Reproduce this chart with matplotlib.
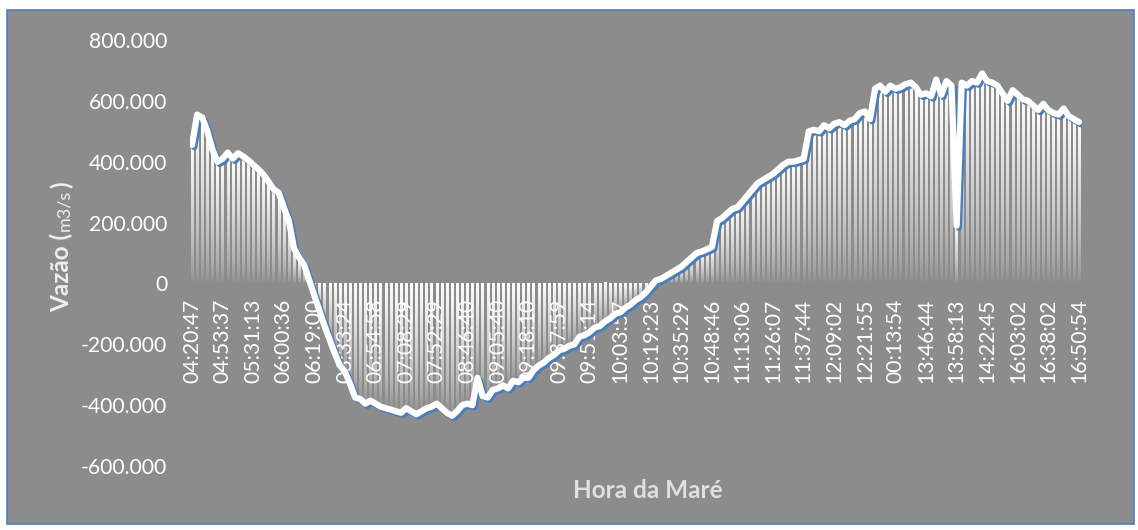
import numpy as np
import matplotlib
matplotlib.use("Agg")
import matplotlib.pyplot as plt
import matplotlib.patheffects as pe
from matplotlib.patches import Rectangle
from matplotlib.ticker import FuncFormatter

# vazão medida ao longo da maré (milhares, como no eixo)
vazao_mil = [
    455, 555, 545, 500, 440, 400, 410, 430, 410, 428,
    418, 405, 390, 375, 358, 335, 310, 298, 250, 205,
    115, 85, 60, 10, -40, -90, -140, -185, -230, -270,
    -290, -330, -375, -380, -395, -385, -395, -405, -410, -415,
    -420, -425, -410, -420, -430, -420, -410, -405, -395, -410,
    -425, -435, -420, -400, -395, -400, -310, -370, -375, -350,
    -345, -335, -345, -320, -325, -310, -310, -285, -270, -260,
    -245, -235, -220, -215, -205, -200, -175, -170, -160, -145,
    -140, -125, -115, -100, -95, -80, -70, -55, -45, -30,
    -10, 10, 15, 25, 35, 45, 55, 70, 85, 100,
    105, 112, 120, 205, 215, 230, 245, 250, 270, 290,
    310, 330, 340, 350, 360, 375, 390, 400, 400, 405,
    410, 500, 505, 500, 520, 510, 525, 530, 520, 535,
    540, 560, 565, 540, 640, 650, 630, 650, 640, 645,
    655, 660, 645, 620, 625, 615, 670, 620, 665, 650,
    190, 660, 650, 665, 660, 690, 665, 660, 650, 625,
    600, 635, 620, 605, 600, 585, 570, 590, 570, 560,
    555, 575, 550, 540, 530,
]

hora_labels = [
    "04:20:47", "04:53:37", "05:31:13", "06:00:36", "06:19:00", "06:33:24",
    "06:54:58", "07:08:29", "07:52:29", "08:46:40", "09:05:40", "09:18:10",
    "09:37:59", "09:51:14", "10:03:57", "10:19:23", "10:35:29", "10:48:46",
    "11:13:06", "11:26:07", "11:37:44", "12:09:02", "12:21:55", "00:13:54",
    "13:46:44", "13:58:13", "14:22:45", "16:03:02", "16:38:02", "16:50:54",
]
passo_rotulo = 6

FUNDO = "#8c8c8c"
AZUL = "#4a7ebb"
plt.rcParams["font.family"] = ["Lato", "DejaVu Sans"]

W, H = 1138, 530
fig = plt.figure(figsize=(W / 100, H / 100), dpi=100, facecolor="white")
fig.patches.append(Rectangle((7 / W, 1 - 524 / H), 1127 / W, 514 / H,
                             transform=fig.transFigure, facecolor=FUNDO,
                             edgecolor=AZUL, lw=1.2, zorder=-10))

ax = fig.add_axes([189.5 / W, 1 - 466 / H, 892 / W, 426 / H])
ax.set_facecolor("none")

y = np.array(vazao_mil, dtype=float)
x = np.arange(len(y))

# colunas finas com degradê branco -> transparente
grad = np.ones((128, 1, 4))
grad[:, 0, 3] = np.linspace(1.0, 0.0, 128) ** 0.7
larg = 0.45
for xi, yi in zip(x, y):
    lo, hi = min(0, yi), max(0, yi)
    ax.imshow(grad, extent=(xi - larg / 2, xi + larg / 2, lo, hi),
              aspect="auto", interpolation="bilinear", zorder=2)

ax.plot(x, y, color="white", lw=4.5, solid_joinstyle="round",
        solid_capstyle="round", zorder=3,
        path_effects=[pe.SimpleLineShadow(offset=(1.6, -1.6), shadow_color=AZUL,
                                          alpha=1.0),
                      pe.Normal()])

ax.set_xlim(-0.5, len(y) - 0.5)
ax.set_ylim(-600, 800)
ax.set_yticks(np.arange(-600, 801, 200))
ax.yaxis.set_major_formatter(
    FuncFormatter(lambda v, _: f"{v * 1000:,.0f}".replace(",", ".")))

ticks = np.arange(0, len(y), passo_rotulo)
ax.set_xticks(ticks)
ax.set_xticklabels(hora_labels[:len(ticks)])

ax.spines["bottom"].set_position(("data", 0))
for s in ax.spines.values():
    s.set_visible(False)
ax.tick_params(axis="both", length=0, colors="white", labelsize=15.2)
ax.tick_params(axis="y", pad=16)
ax.tick_params(axis="x", pad=11, labelrotation=90)

fig.text(648 / W, 1 - 490 / H, "Hora da Maré", ha="center", va="center",
         fontsize=17.5, fontweight="bold", color="#e0e0e0")

# rótulo do eixo y em partes: negrito + unidade menor
partes = [("Vazão (", dict(fontsize=17.5, fontweight="bold")),
          ("m3/s", dict(fontsize=13)),
          (")", dict(fontsize=17.5, fontweight="bold"))]
fig.canvas.draw()
r = fig.canvas.get_renderer()
x_base = 69 / W
textos = []
pos = 0.0
for txt, kw in partes:
    t = fig.text(x_base, pos, txt, rotation=90, rotation_mode="anchor",
                 ha="left", va="baseline", color="#eeeeee", **kw)
    bb = t.get_window_extent(r)
    textos.append((t, pos))
    pos += bb.height / fig.bbox.height + 1.5 / H
inicio = (1 - 246 / H) - pos / 2
for t, p in textos:
    t.set_y(inicio + p)

fig.savefig("out.png", dpi=100, facecolor="white")
